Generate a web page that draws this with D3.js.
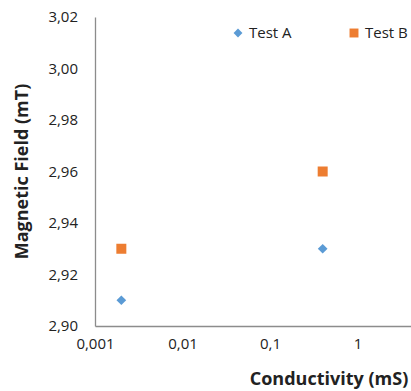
<!DOCTYPE html>
<html>
<head>
<meta charset="utf-8">
<script src="https://cdn.jsdelivr.net/npm/d3@7"></script>
<style>
  body { margin: 0; background: #fff; }
  text { font-family: "Open Sans", "Liberation Sans", sans-serif; fill: #222; }
</style>
</head>
<body>
<div id="chart"></div>
<script>
// data
var seriesNames = ["Test A", "Test B"];
var conductivity = [0.002, 0.4];
var testA = [2.91, 2.93];
var testB = [2.93, 2.96];
var xTicks = [0.001, 0.01, 0.1, 1];
var yTicks = [2.90, 2.92, 2.94, 2.96, 2.98, 3.00, 3.02];

var width = 411, height = 391;
var margin = {top: 17, left: 95, bottom: 65};

var svg = d3.select("#chart").append("svg")
    .attr("width", width)
    .attr("height", height);

// log x scale, one decade ~87.5px
var x = d3.scaleLog()
    .domain([0.001, 10])
    .range([margin.left, margin.left + 350]);
var y = d3.scaleLinear()
    .domain([2.90, 3.02])
    .range([height - margin.bottom, margin.top]);

var fmtX = function(d) { return String(d).replace(".", ","); };
var fmtY = function(d) { return d3.format(".2f")(d).replace(".", ","); };

// axes (no tick marks, just the lines + labels)
var xAxis = svg.append("g")
    .attr("transform", "translate(0," + y(2.90) + ")")
    .call(d3.axisBottom(x).tickValues(xTicks).tickFormat(fmtX).tickSize(0).tickPadding(10));
var yAxis = svg.append("g")
    .attr("transform", "translate(" + x(0.001) + ",0)")
    .call(d3.axisLeft(y).tickValues(yTicks).tickFormat(fmtY).tickSize(0).tickPadding(17));

[xAxis, yAxis].forEach(function(a) {
  a.select(".domain").attr("stroke", "#8c8c8c").attr("stroke-width", 1.3);
  a.selectAll("text").style("font-size", "15px").style("fill", "#222");
});
xAxis.selectAll("text").attr("dy", "0.85em");

// axis titles
svg.append("text")
    .attr("x", 329).attr("y", 385)
    .attr("text-anchor", "middle")
    .style("font-size", "18px").style("font-weight", "bold")
    .text("Conductivity (mS)");
svg.append("text")
    .attr("transform", "translate(28," + ((y(2.90) + y(3.02)) / 2) + ") rotate(-90)")
    .attr("text-anchor", "middle")
    .style("font-size", "18px").style("font-weight", "bold")
    .text("Magnetic Field (mT)");

// points
var colors = ["#5b9bd5", "#ed7d31"];
var diamond = d3.symbol().type(d3.symbolDiamond2).size(60);
var square = d3.symbol().type(d3.symbolSquare).size(100);

svg.selectAll(".ptA")
    .data(testA)
    .enter().append("path")
      .attr("class", "ptA")
      .attr("d", diamond)
      .attr("transform", function(d, i) { return "translate(" + x(conductivity[i]) + "," + y(d) + ")"; })
      .attr("fill", colors[0]);

svg.selectAll(".ptB")
    .data(testB)
    .enter().append("path")
      .attr("class", "ptB")
      .attr("d", square)
      .attr("transform", function(d, i) { return "translate(" + x(conductivity[i]) + "," + y(d) + ")"; })
      .attr("fill", colors[1]);

// legend
var legendX = [238, 354];
var legend = svg.selectAll(".legend")
    .data(seriesNames)
    .enter().append("g")
      .attr("class", "legend")
      .attr("transform", function(d, i) { return "translate(" + legendX[i] + ",33)"; });
legend.append("path")
    .attr("d", function(d, i) { return i === 0 ? d3.symbol().type(d3.symbolDiamond2).size(50)() : d3.symbol().type(d3.symbolSquare).size(80)(); })
    .attr("fill", function(d, i) { return colors[i]; });
legend.append("text")
    .attr("x", 11).attr("dy", "0.35em")
    .style("font-size", "15px")
    .text(function(d) { return d; });
</script>
</body>
</html>
